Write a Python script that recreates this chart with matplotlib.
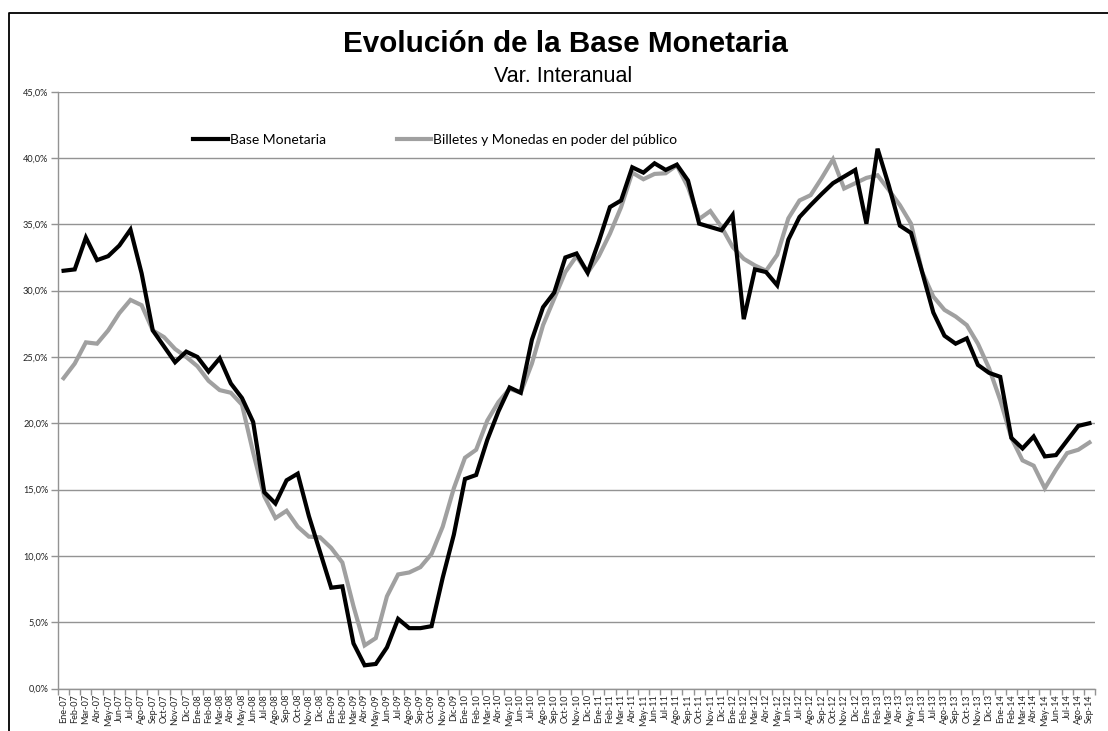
import matplotlib
matplotlib.use("Agg")
import matplotlib.pyplot as plt
from matplotlib.lines import Line2D
from matplotlib.ticker import FixedLocator, FuncFormatter

meses = ["Ene", "Feb", "Mar", "Abr", "May", "Jun", "Jul", "Ago", "Sep", "Oct", "Nov", "Dic"]
labels = [f"{m}-{y:02d}" for y in range(7, 15) for m in meses][:93]

base_monetaria = [
    31.5, 31.6, 34.0, 32.3, 32.6, 33.4, 34.6, 31.3, 27.0, 25.8, 24.6, 25.4,
    25.0, 23.9, 24.9, 23.0, 21.9, 20.1, 14.8, 13.95, 15.7, 16.2, 13.0, 10.3,
    7.6, 7.7, 3.4, 1.75, 1.85, 3.1, 5.25, 4.55, 4.55, 4.7, 8.35, 11.6,
    15.8, 16.1, 18.75, 20.9, 22.7, 22.3, 26.3, 28.75, 29.85, 32.5, 32.8, 31.35,
    33.7, 36.3, 36.8, 39.3, 38.9, 39.6, 39.1, 39.5, 38.3, 35.05, 34.8, 34.55,
    35.7, 27.85, 31.6, 31.4, 30.4, 33.85, 35.55, 36.45, 37.3, 38.1, 38.6, 39.1,
    35.05, 40.7, 37.95, 34.9, 34.35, 31.4, 28.35, 26.6, 26.0, 26.4, 24.4, 23.8,
    23.5, 18.9, 18.1, 19.0, 17.5, 17.6, 18.7, 19.8, 20.0,
]
billetes_monedas = [
    23.4, 24.5, 26.1, 26.0, 27.0, 28.3, 29.3, 28.9, 27.0, 26.5, 25.6, 25.0,
    24.3, 23.2, 22.5, 22.3, 21.4, 17.8, 14.5, 12.85, 13.4, 12.2, 11.45, 11.4,
    10.6, 9.5, 6.2, 3.25, 3.8, 6.95, 8.6, 8.75, 9.15, 10.15, 12.2, 15.1,
    17.4, 18.0, 20.2, 21.6, 22.6, 22.3, 24.5, 27.4, 29.4, 31.4, 32.6, 31.35,
    32.6, 34.3, 36.3, 38.9, 38.4, 38.8, 38.85, 39.45, 37.8, 35.4, 36.0, 34.8,
    33.3, 32.4, 31.9, 31.5, 32.7, 35.45, 36.8, 37.2, 38.5, 39.9, 37.7, 38.1,
    38.5, 38.7, 37.6, 36.45, 35.05, 31.4, 29.55, 28.55, 28.05, 27.4, 26.0, 24.15,
    21.75, 18.9, 17.2, 16.8, 15.1, 16.5, 17.75, 18.0, 18.55,
]
y_ticks = [0, 5, 10, 15, 20, 25, 30, 35, 40, 45]

W, H = 1108, 731
fig = plt.figure(figsize=(W / 100, H / 100), dpi=100)
ax = fig.add_axes([58 / W, 42.5 / H, 1037 / W, 596.8 / H])

x = list(range(len(labels)))
ax.plot(x, base_monetaria, color="black", lw=3.0, solid_joinstyle="miter",
        label="Base Monetaria", zorder=3)
ax.plot(x, billetes_monedas, color="#a0a0a0", lw=3.0, solid_joinstyle="miter",
        label="Billetes y Monedas en poder del público", zorder=2)

ax.set_xlim(-0.5, len(labels) - 0.5)
ax.set_ylim(0, 45)

ax.set_yticks(y_ticks)
ax.yaxis.set_major_formatter(FuncFormatter(lambda v, p: f"{v:.1f}".replace(".", ",") + "%"))
ax.yaxis.grid(True, color="#939393", lw=1.0)
ax.set_axisbelow(True)

ax.set_xticks(x)
ax.set_xticklabels(labels, rotation=90, fontsize=6.5, family="Lato", color="#222222")
ax.xaxis.set_minor_locator(FixedLocator([i - 0.5 for i in range(len(labels) + 1)]))
ax.tick_params(axis="x", which="major", length=0, pad=4)
ax.tick_params(axis="x", which="minor", length=4, color="#939393", width=1)
ax.tick_params(axis="y", length=5, color="#939393", width=1, labelsize=6.6,
               labelcolor="#222222", pad=2)
for t in ax.get_yticklabels():
    t.set_family("Lato")

for s in ["top", "right"]:
    ax.spines[s].set_visible(False)
for s in ["left", "bottom"]:
    ax.spines[s].set_color("#939393")
    ax.spines[s].set_linewidth(1.0)

leg = ax.legend(ncol=2, loc="center left", bbox_to_anchor=(135 / 1037, (688.5 - 140) / 596.8),
                frameon=False, handlelength=2.5, handletextpad=0.15, columnspacing=5.1,
                prop={"family": "Lato", "size": 10}, borderaxespad=0, borderpad=0)

fig.text(565 / W, 1 - 44 / H, "Evolución de la Base Monetaria", ha="center", va="center",
         fontsize=21.3, fontweight="bold", family="Liberation Sans")
fig.text(563 / W, 1 - 77 / H, "Var. Interanual", ha="center", va="center",
         fontsize=15.5, family="Liberation Sans")

fig.add_artist(Line2D([9 / W, 9 / W, 1.0], [0.0, 1 - 13 / H, 1 - 13 / H],
                      color="black", lw=1.3, transform=fig.transFigure))

fig.savefig("out.png", dpi=100)
